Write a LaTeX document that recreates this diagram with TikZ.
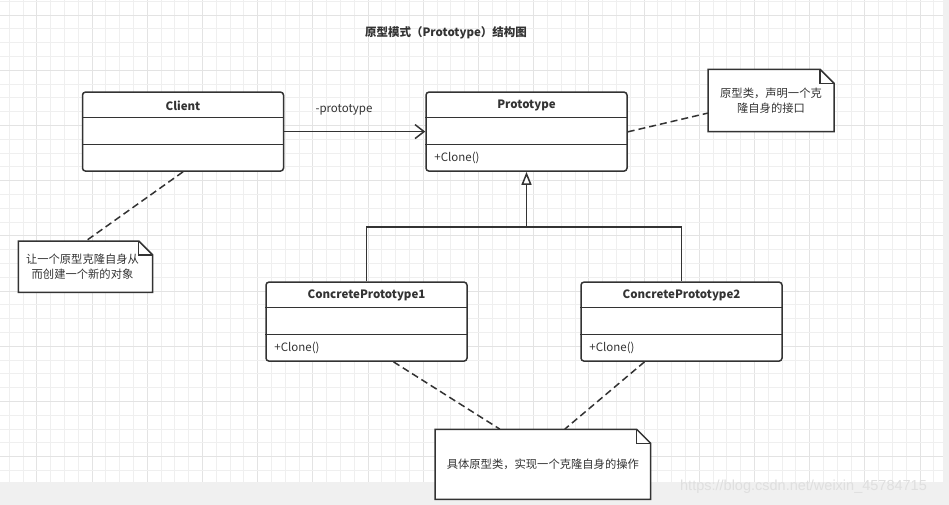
\documentclass[tikz,border=0pt]{standalone}
\usepackage{fontspec}
\setmainfont{Noto Sans CJK SC}
\newfontfamily\wmfont{Liberation Sans}
\usetikzlibrary{arrows.meta,calc}
\definecolor{ln}{HTML}{333333}
\definecolor{gridminor}{HTML}{EFEFEF}
\definecolor{gridmajor}{HTML}{E3E3E3}
\definecolor{band}{HTML}{F0F0F0}
\newcommand\umlclass[5]{%
  \node[classbox] (#1) at (#2,#3) {};
  \draw[boxline] ($(#1.north west)+(0,26.3)$) -- ($(#1.north east)+(0,26.3)$);
  \draw[boxline] ($(#1.north west)+(0,53)$) -- ($(#1.north east)+(0,53)$);
  \node[header] (#1-name) at ($(#1.north)+(0,14.2)$) {#4};
  \node[member] (#1-op) at ($(#1.north west)+(9,66.3)$) {#5};
}
\newcommand\umlnote[7]{%
  \draw[boxline,fill=white,line join=miter] (#2,#3) -- (#4-14,#3) -- (#4,#3+14) -- (#4,#5) -- (#2,#5) -- cycle;
  \draw[boxline] (#4-14,#3) -- (#4-14,#3+14) -- (#4,#3+14);
  \node[notetext,minimum width=#4-#2,minimum height=#5-#3] (#1) at ({(#2+#4)/2},{(#3+#5)/2}) {};
  \node[notetext] (#1-text) at ($(#1.center)+(#7,0)$) {#6};
}
\begin{document}
\begin{tikzpicture}[x=1pt,y=-1pt,
  boxline/.style={draw=ln,line width=1.5pt},
  classbox/.style={boxline,rounded corners=3pt,fill=white,minimum width=201pt,minimum height=79pt,inner sep=0pt},
  header/.style={font=\fontsize{11.5}{13}\selectfont\bfseries,text=ln,inner sep=0pt},
  member/.style={font=\fontsize{11.5}{13}\selectfont,text=ln,inner sep=0pt,anchor=west},
  notetext/.style={font=\fontsize{11.3}{15}\selectfont,text=ln,align=center,inner sep=0pt},
  dashline/.style={draw=ln,line width=1.5pt,dash pattern=on 7pt off 4pt},
  link/.style={draw=ln,line width=1.5pt},
]
\useasboundingbox (0,0) rectangle (949,505);
\fill[white] (0,0) rectangle (949,505);
% grid
\foreach \i in {0,...,67}{%
  \pgfmathsetmacro\gx{9.3+13.8*\i}%
  \pgfmathtruncatemacro\m{mod(\i,4)}%
  \ifnum\m=2 \draw[gridmajor,line width=0.9pt] (\gx,0) -- (\gx,482);%
  \else \draw[gridminor,line width=0.9pt] (\gx,0) -- (\gx,482);\fi}
\foreach \i in {0,...,34}{%
  \pgfmathsetmacro\gy{1.3+13.8*\i}%
  \pgfmathtruncatemacro\m{mod(\i,4)}%
  \ifnum\m=1 \draw[gridmajor,line width=0.9pt] (0,\gy) -- (943,\gy);%
  \else \draw[gridminor,line width=0.9pt] (0,\gy) -- (943,\gy);\fi}
\fill[band] (0,482) rectangle (949,505);
\fill[band] (943,0) rectangle (949,482);

% title
\node[header] (title) at (446,33) {原型模式（Prototype）结构图};

% classes
\umlclass{client}{183}{131.6}{Client}{}
\umlclass{proto}{526.5}{131.6}{Prototype}{+Clone()}
\umlclass{cp1}{366.5}{321.6}{ConcretePrototype1}{+Clone()}
\umlclass{cp2}{681.5}{321.6}{ConcretePrototype2}{+Clone()}

% association
\draw[link,-{Straight Barb[length=9pt,width=14pt,line width=1.5pt]}] (client.east) -- (proto.west);
\node[member,anchor=center] (assoc) at (344,110) {-prototype};

% generalization
\coordinate (junc) at (526.5,227);
\draw[link] (cp1.north) |- (junc) -| (cp2.north);
\draw[link,-{Triangle[length=13pt,width=10pt,fill=white,line width=1.5pt]}] (junc) -- (proto.south);

% notes
\umlnote{rnote}{708}{69.3}{834}{131.7}{原型类，声明一个克\\隆自身的接口}{0}
\umlnote{lnote}{18.3}{241}{152.7}{292.3}{让一个原型克隆自身从\\而创建一个新的对象}{-3}
\umlnote{bnote}{435}{429.3}{650.7}{499.3}{具体原型类，实现一个克隆自身的操作}{0}

% note connectors
\draw[dashline] ($(proto.south east)+(0,-40)$) -- ($(rnote.north west)+(0,44)$);
\draw[dashline] (client.south) -- ($(lnote.north west)+(68,0)$);
\draw[dashline] ($(cp1.south)+(27,0)$) -- ($(bnote.north west)+(65,0)$);
\draw[dashline] ($(cp2.south)+(-37,0)$) -- ($(bnote.north west)+(130,0)$);

% watermark
\node[font=\wmfont\fontsize{14.5}{16}\selectfont,text=gray!25,inner sep=0pt] (wm) at (803.5,487) {https://blog.csdn.net/weixin\_45784715};
\end{tikzpicture}
\end{document}
